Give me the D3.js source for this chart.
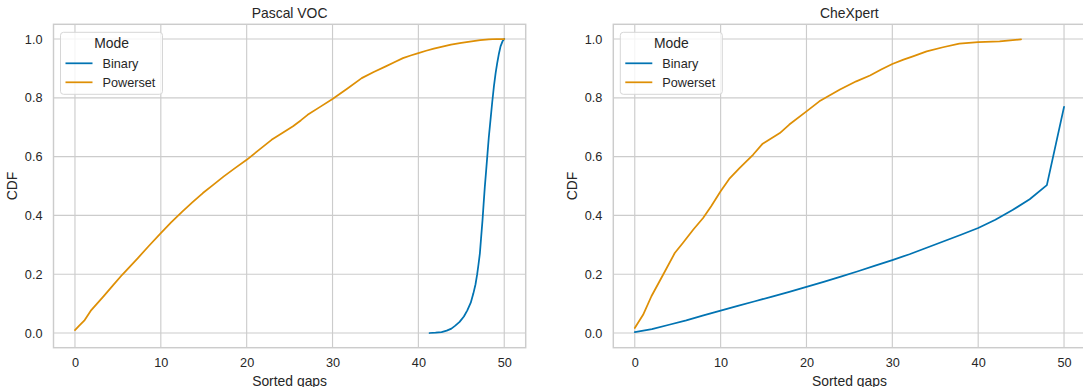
<!DOCTYPE html>
<html>
<head>
<meta charset="utf-8">
<script src="https://cdn.jsdelivr.net/npm/d3@7"></script>
<style>
  html, body { margin: 0; padding: 0; background: #fff; }
  svg { display: block; font-family: "Liberation Sans", Arial, sans-serif; }
</style>
</head>
<body>
<svg id="chart" width="1083" height="387"></svg>
<script>
// ---------- data ----------
const panelTitles = ["Pascal VOC", "CheXpert"];
const seriesNames = ["Binary", "Powerset"];
const xTicks = [0, 10, 20, 30, 40, 50];
const yTicks = [0.0, 0.2, 0.4, 0.6, 0.8, 1.0];

// Pascal VOC
const vocBinaryX = [41.3, 42.0, 42.7, 43.3, 43.85, 44.3, 44.8, 45.3, 45.7, 46.1, 46.4, 46.65, 46.85, 47.0, 47.16, 47.3, 47.47, 47.6, 47.74, 47.9, 48.05, 48.2, 48.4, 48.6, 48.8, 49.0, 49.18, 49.38, 49.57, 49.8, 50.0];
const vocBinaryY = [0.0, 0.001, 0.003, 0.008, 0.015, 0.025, 0.038, 0.056, 0.077, 0.103, 0.134, 0.165, 0.2, 0.233, 0.27, 0.322, 0.384, 0.44, 0.498, 0.555, 0.61, 0.665, 0.725, 0.785, 0.84, 0.885, 0.918, 0.95, 0.975, 0.992, 1.0];
const vocPowerX = [0, 0.5, 1.08, 1.9, 2.6, 3.3, 4.4, 5.5, 6.4, 7.3, 8.6, 10, 11.2, 12.5, 13.7, 14.9, 16.1, 17.3, 18.6, 20, 21.4, 22.9, 24.2, 25.4, 26.3, 27.1, 28.6, 30, 31.7, 33.4, 34.8, 36.2, 37.2, 38.2, 39.1, 40, 40.9, 41.8, 42.8, 43.8, 45, 46.2, 47.2, 48.2, 49.1, 50];
const vocPowerY = [0.01, 0.025, 0.042, 0.078, 0.101, 0.124, 0.161, 0.198, 0.226, 0.254, 0.296, 0.34, 0.376, 0.413, 0.445, 0.476, 0.504, 0.532, 0.56, 0.589, 0.622, 0.657, 0.681, 0.703, 0.723, 0.742, 0.77, 0.796, 0.831, 0.867, 0.888, 0.907, 0.921, 0.935, 0.944, 0.952, 0.96, 0.967, 0.974, 0.981, 0.987, 0.992, 0.996, 0.999, 1.0, 1.0];

// CheXpert
const chxBinaryX = [0, 2, 4, 6, 8, 10, 12, 14, 16, 18, 20, 22, 24, 26, 28, 30, 32, 34, 36, 38, 40, 42, 44, 46, 48, 50];
const chxBinaryY = [0.003, 0.013, 0.028, 0.043, 0.06, 0.076, 0.092, 0.108, 0.124, 0.14, 0.157, 0.174, 0.192, 0.21, 0.229, 0.248, 0.268, 0.29, 0.312, 0.334, 0.357, 0.385, 0.418, 0.455, 0.503, 0.769];
const chxPowerX = [0, 0.97, 1.94, 3.3, 4.66, 5.6, 6.8, 7.96, 8.9, 10, 11, 12.2, 13.8, 14.9, 16.9, 18, 20, 21.5, 23.9, 25.8, 27.4, 28.7, 30, 31.3, 32.4, 34, 35.9, 37.8, 40, 42.5, 45];
const chxPowerY = [0.017, 0.062, 0.125, 0.198, 0.272, 0.306, 0.351, 0.391, 0.431, 0.482, 0.524, 0.561, 0.607, 0.644, 0.68, 0.709, 0.754, 0.788, 0.828, 0.856, 0.876, 0.896, 0.915, 0.93, 0.941, 0.958, 0.972, 0.984, 0.989, 0.992, 0.999];

const panels = [
  { title: panelTitles[0], series: [
      { name: seriesNames[0], x: vocBinaryX, y: vocBinaryY },
      { name: seriesNames[1], x: vocPowerX, y: vocPowerY } ] },
  { title: panelTitles[1], series: [
      { name: seriesNames[0], x: chxBinaryX, y: chxBinaryY },
      { name: seriesNames[1], x: chxPowerX, y: chxPowerY } ] }
];

// ---------- style ----------
const colors = { Binary: "#0173b2", Powerset: "#de8f05" };
const gridColor = "#cccccc";
const textColor = "#262626";
const tickFont = 12.7, labelFont = 13.9;

const svg = d3.select("#chart");
const layouts = [
  { left: 53.5, right: 525.7, top: 24.3, bottom: 347.7 },
  { left: 613.3, right: 1085.5, top: 24.3, bottom: 347.7 }
];

panels.forEach((p, i) => {
  const L = layouts[i];
  const x = d3.scaleLinear().domain([-2.5, 52.5]).range([L.left, L.right]);
  const y = d3.scaleLinear().domain([-0.05, 1.05]).range([L.bottom, L.top]);
  const g = svg.append("g");

  // grid
  g.append("g").selectAll("line").data(xTicks).join("line")
    .attr("x1", d => x(d)).attr("x2", d => x(d))
    .attr("y1", L.top).attr("y2", L.bottom)
    .attr("stroke", gridColor).attr("stroke-width", 1.15);
  g.append("g").selectAll("line").data(yTicks).join("line")
    .attr("x1", L.left).attr("x2", L.right)
    .attr("y1", d => y(d)).attr("y2", d => y(d))
    .attr("stroke", gridColor).attr("stroke-width", 1.15);

  // axes (tick labels only)
  const xAxis = g.append("g").attr("transform", `translate(0,${L.bottom})`)
    .call(d3.axisBottom(x).tickValues(xTicks).tickFormat(d3.format("d")).tickSize(0).tickPadding(10));
  const yAxis = g.append("g").attr("transform", `translate(${L.left},0)`)
    .call(d3.axisLeft(y).tickValues(yTicks).tickFormat(d3.format(".1f")).tickSize(0).tickPadding(11));
  [xAxis, yAxis].forEach(a => {
    a.select(".domain").remove();
    a.selectAll("text").attr("fill", textColor).style("font-size", tickFont + "px")
      .style("font-family", '"Liberation Sans", Arial, sans-serif');
  });

  // spines
  g.append("rect").attr("x", L.left).attr("y", L.top)
    .attr("width", L.right - L.left).attr("height", L.bottom - L.top)
    .attr("fill", "none").attr("stroke", gridColor).attr("stroke-width", 1.45);

  // lines
  const line = d3.line().x(d => x(d[0])).y(d => y(d[1]));
  p.series.forEach(s => {
    const pts = s.x.map((v, k) => [v, s.y[k]]);
    g.append("path").datum(pts).attr("d", line)
      .attr("fill", "none").attr("stroke", colors[s.name])
      .attr("stroke-width", 1.75).attr("stroke-linejoin", "round").attr("stroke-linecap", "round");
  });

  // title and axis labels
  const cx = (L.left + Math.min(L.right, 1085.5)) / 2;
  g.append("text").attr("x", cx).attr("y", 18).attr("text-anchor", "middle")
    .attr("fill", textColor).style("font-size", labelFont + "px").text(p.title);
  g.append("text").attr("x", cx).attr("y", 386).attr("text-anchor", "middle")
    .attr("fill", textColor).style("font-size", labelFont + "px").text("Sorted gaps");
  const ly = (L.top + L.bottom) / 2;
  const lx = L.left - 41.5;
  g.append("text").attr("transform", `translate(${lx},${ly}) rotate(-90)`)
    .attr("text-anchor", "middle").attr("dy", "0.35em")
    .attr("fill", textColor).style("font-size", labelFont + "px").text("CDF");

  // legend
  const lg = g.append("g").attr("transform", `translate(${L.left + 7},${L.top + 8})`);
  lg.append("rect").attr("x", 0).attr("y", 0).attr("width", 102).attr("height", 62)
    .attr("rx", 3).attr("fill", "#ffffff").attr("fill-opacity", 0.8)
    .attr("stroke", "#d6d6d6").attr("stroke-width", 1);
  lg.append("text").attr("x", 51).attr("y", 11).attr("dy", "0.35em").attr("text-anchor", "middle")
    .attr("fill", textColor).style("font-size", labelFont + "px").text("Mode");
  seriesNames.forEach((n, k) => {
    const yy = 31 + k * 19;
    lg.append("line").attr("x1", 5).attr("x2", 32).attr("y1", yy).attr("y2", yy)
      .attr("stroke", colors[n]).attr("stroke-width", 1.75);
    lg.append("text").attr("x", 42).attr("y", yy).attr("dy", "0.35em")
      .attr("fill", textColor).style("font-size", tickFont + "px").text(n);
  });
});
</script>
</body>
</html>
